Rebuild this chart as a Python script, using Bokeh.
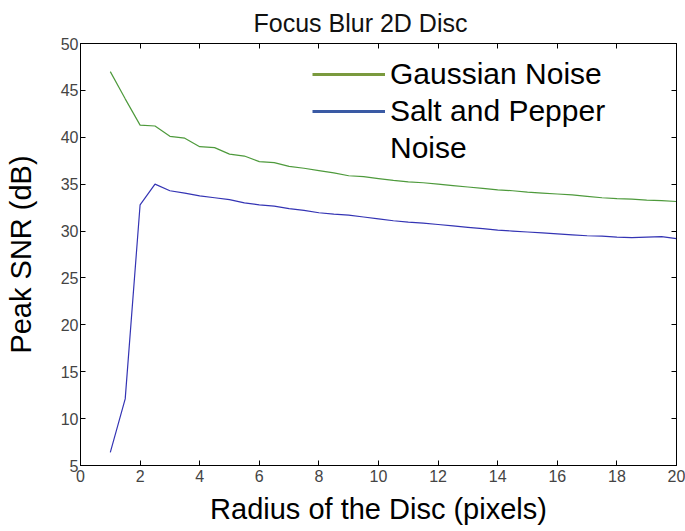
from bokeh.plotting import figure
from bokeh.models import (Range1d, LinearAxis, FixedTicker, Legend, LegendItem,
                          ColumnDataSource, CDSView, IndexFilter)
from bokeh.embed import file_html
from bokeh.resources import INLINE

# ---- data ----
radius = [1, 1.5, 2, 2.5, 3, 3.5, 4, 4.5, 5, 5.5, 6, 6.5, 7, 7.5, 8, 8.5, 9, 9.5,
          10, 10.5, 11, 11.5, 12, 12.5, 13, 13.5, 14, 14.5, 15, 15.5, 16, 16.5,
          17, 17.5, 18, 18.5, 19, 19.5, 20]
gaussian_psnr = [47.0, 44.1, 41.3, 41.2, 40.1, 39.9, 39.0, 38.9, 38.2, 38.0,
                 37.4, 37.3, 36.9, 36.7, 36.45, 36.2, 35.9, 35.8, 35.6, 35.4,
                 35.25, 35.15, 35.0, 34.85, 34.7, 34.55, 34.4, 34.3, 34.15, 34.05,
                 33.95, 33.85, 33.7, 33.55, 33.45, 33.4, 33.3, 33.25, 33.15]
saltpepper_psnr = [6.4, 12.1, 32.8, 35.0, 34.3, 34.05, 33.75, 33.55, 33.35, 33.0,
                   32.8, 32.65, 32.4, 32.2, 31.95, 31.8, 31.7, 31.5, 31.3, 31.1,
                   30.95, 30.85, 30.7, 30.55, 30.4, 30.25, 30.1, 30.0, 29.9, 29.8,
                   29.7, 29.6, 29.5, 29.45, 29.35, 29.3, 29.35, 29.4, 29.2]
x_ticks = [0, 2, 4, 6, 8, 10, 12, 14, 16, 18, 20]
y_ticks = [5, 10, 15, 20, 25, 30, 35, 40, 45, 50]
series_names = ["Gaussian Noise", "Salt and Pepper", "Noise"]

FONT = "Liberation Sans"

p = figure(frame_width=596, frame_height=422,
           min_border_left=80, min_border_right=9, min_border_top=43, min_border_bottom=60,
           x_range=Range1d(0, 20), y_range=Range1d(5, 50),
           output_backend="svg", toolbar_location=None, title="Focus Blur 2D Disc")

p.title.align = "left"
p.title.offset = 173
p.title.vertical_align = "top"
p.title.standoff = 9
p.title.text_font = FONT
p.title.text_font_style = "normal"
p.title.text_font_size = "25px"
p.title.text_color = "#111111"

p.xgrid.visible = False
p.ygrid.visible = False
p.outline_line_color = "#000000"
p.outline_line_width = 1
p.background_fill_color = "white"
p.border_fill_color = "white"

for ax, ticks in ((p.xaxis[0], x_ticks), (p.yaxis[0], y_ticks)):
    ax.ticker = FixedTicker(ticks=ticks)
    ax.major_tick_in = 5
    ax.major_tick_out = 0
    ax.minor_tick_line_color = None
    ax.axis_line_color = "#000000"
    ax.major_tick_line_color = "#000000"
    ax.major_label_text_font = FONT
    ax.major_label_text_font_size = "16px"
    ax.major_label_text_color = "#444444"
    ax.axis_label_text_font = FONT
    ax.axis_label_text_font_style = "normal"
    ax.axis_label_text_font_size = "29px"
    ax.axis_label_text_color = "#000000"

p.xaxis[0].axis_label = "Radius of the Disc (pixels)"
p.xaxis[0].major_label_standoff = 4
p.xaxis[0].axis_label_standoff = 8
p.yaxis[0].axis_label = "Peak SNR (dB)"
p.yaxis[0].major_label_standoff = 2
p.yaxis[0].axis_label_standoff = 21

for loc, ticks in (("above", x_ticks), ("right", y_ticks)):
    ax = LinearAxis(ticker=FixedTicker(ticks=ticks))
    ax.major_tick_in = 5
    ax.major_tick_out = 0
    ax.minor_tick_line_color = None
    ax.major_label_text_font_size = "1px"
    ax.major_label_text_color = None
    ax.major_label_standoff = 0
    ax.axis_line_color = "#000000"
    p.add_layout(ax, loc)

src = ColumnDataSource(dict(x=radius, g=gaussian_psnr, s=saltpepper_psnr))
p.line("x", "g", source=src, line_color="#4e9a3c", line_width=1.2)
p.line("x", "s", source=src, line_color="#3434b4", line_width=1.2)

# legend sample glyphs: one-point views draw nothing on the plot, only in the legend
lg = p.line("x", "g", source=src, view=CDSView(filter=IndexFilter([0])),
            line_color="#7a9a3e", line_width=3)
lb = p.line("x", "s", source=src, view=CDSView(filter=IndexFilter([0])),
            line_color="#3a5aa4", line_width=3)
ln = p.line("x", "s", source=src, view=CDSView(filter=IndexFilter([0])), line_alpha=0)

legend = Legend(items=[LegendItem(label=series_names[0], renderers=[lg]),
                       LegendItem(label=series_names[1], renderers=[lb]),
                       LegendItem(label=series_names[2], renderers=[ln])],
                location=(232, 300), padding=0, margin=0, spacing=3,
                glyph_width=73, glyph_height=14, label_standoff=5,
                label_text_font=FONT, label_text_font_size="30px",
                label_text_color="#000000",
                border_line_color=None, background_fill_alpha=0)
p.add_layout(legend, "center")

open("out.html", "w").write(file_html(p, INLINE))
